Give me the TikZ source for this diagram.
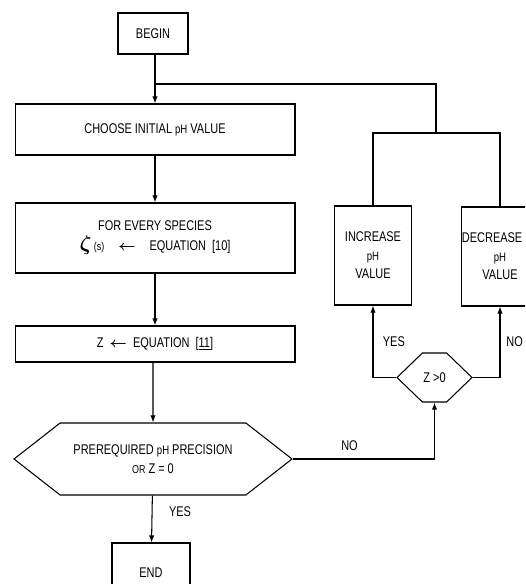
\documentclass[tikz,border=0pt]{standalone}
\usepackage{amsmath}
\usepackage{fontspec}
\setmainfont[FakeStretch=0.78]{Liberation Sans}
\usetikzlibrary{arrows.meta,shapes.symbols}

\tikzset{
    flowbox/.style={draw, line width=0.6pt, inner sep=0pt, align=center, font=\fontsize{8}{10.5}\selectfont},
    hexbox/.style={flowbox, signal, signal to=east and west},
    flowline/.style={line width=0.6pt},
    flowarrow/.style={flowline, -{Latex[length=4pt,width=3pt]}},
    answer/.style={font=\fontsize{8}{10}\selectfont}
}
\newcommand{\phtext}{{\fontsize{7}{8}\selectfont pH}}

\begin{document}
\begin{tikzpicture}[x=0.02cm,y=-0.02cm]

    \useasboundingbox (0,0) rectangle (525,584);
    \clip (0,0) rectangle (525,584);

    % Main column
    \node[flowbox, minimum width=1.4cm, minimum height=0.82cm] (begin) at (153,33.5) {BEGIN};
    \node[flowbox, minimum width=5.6cm, minimum height=1.02cm] (choose) at (155,129.5) {CHOOSE INITIAL \phtext{} VALUE};
    \node[flowbox, minimum width=5.6cm, minimum height=1.4cm] (species) at (155,238)
        {FOR EVERY SPECIES\\[1pt] {\large$\boldsymbol{\zeta}$}\,{\fontsize{6.5}{8}\selectfont(s)}\quad $\boldsymbol{\leftarrow}$\quad EQUATION\ \ [10]};
    \node[flowbox, minimum width=5.6cm, minimum height=0.72cm] (zcalc) at (155,344) {Z\ \ $\boldsymbol{\leftarrow}$\ \ EQUATION\ \ [\underline{11}]};
    \node[hexbox, signal pointer angle=76, minimum width=5.56cm, minimum height=1.44cm] (precision) at (153,459)
        {PREREQUIRED \phtext{} PRECISION\\ {\fontsize{6.5}{8}\selectfont OR} Z = 0};
    \node[flowbox, minimum width=1.56cm, minimum height=1.2cm] (end) at (151,573) {END};

    % Correction branch
    \node[hexbox, signal pointer angle=88, minimum width=1.5cm, minimum height=0.98cm] (zsign) at (434.5,377.5) {Z >0};
    \node[flowbox, minimum width=1.54cm, minimum height=1.98cm] (increase) at (373,255.5) {INCREASE\\ \phtext\\ VALUE};
    \node[flowbox, minimum width=1.54cm, minimum height=1.98cm] (decrease) at (500,256.5) {DECREASE\kern9pt\\ \phtext\\ VALUE};

    \coordinate (feed) at (155,84);
    \coordinate (split) at (436,133);

    % Arrows down the main column
    \draw[flowarrow] (begin.south -| feed) -- (choose.north -| feed);
    \draw[flowarrow] (choose) -- (species);
    \draw[flowarrow] (species) -- (zcalc);
    \draw[flowarrow] (zcalc.south -| precision) -- (precision);
    \draw[flowarrow] (precision) -- (end) node[answer, pos=0.35, right=6pt] {YES};

    % Loop back
    \draw[flowarrow] (precision.east) -| (zsign.south) node[answer, pos=0.2, above=1pt] {NO};
    \draw[flowarrow] (zsign.west) -| (increase.south) node[answer, pos=0.75, right=2pt] {YES};
    \draw[flowarrow] (zsign.east) -| (decrease.south) node[answer, pos=0.75, right=0pt] {NO};
    \draw[flowline] (increase.north) |- (split) -| (decrease.north);
    \draw[flowline] (split) |- (feed);

\end{tikzpicture}
\end{document}
